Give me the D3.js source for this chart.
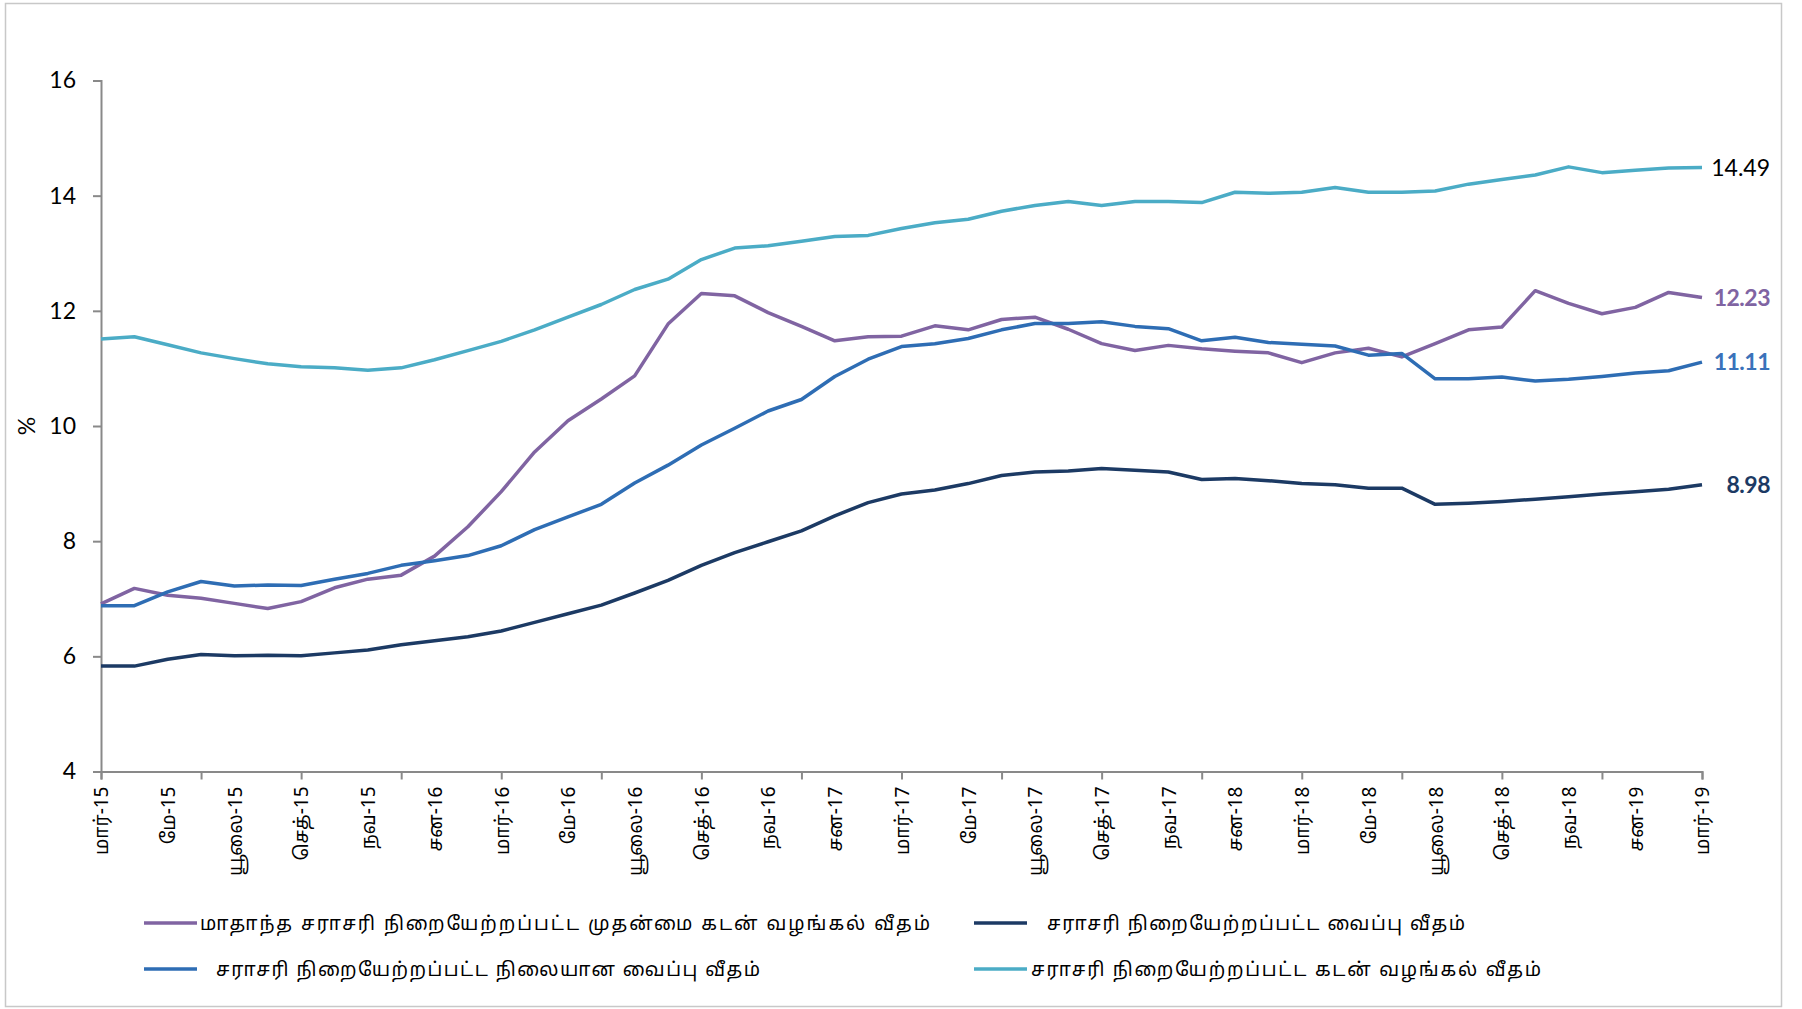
<!DOCTYPE html>
<html>
<head>
<meta charset="utf-8">
<script src="https://cdn.jsdelivr.net/npm/d3@7"></script>
<style>
  html, body { margin: 0; padding: 0; background: #fff; }
  svg { display: block; }
  .num { font-family: Lato, "Open Sans", "Liberation Sans", sans-serif; }
  .tam { font-family: "Noto Sans Tamil", "Latha", "Noto Sans", "Noto Serif Tamil", sans-serif; }
</style>
</head>
<body>
<svg id="chart" width="1802" height="1009"></svg>
<script>
// ---------- data ----------
const months = [
  "2015-03","2015-04","2015-05","2015-06","2015-07","2015-08","2015-09","2015-10","2015-11","2015-12",
  "2016-01","2016-02","2016-03","2016-04","2016-05","2016-06","2016-07","2016-08","2016-09","2016-10","2016-11","2016-12",
  "2017-01","2017-02","2017-03","2017-04","2017-05","2017-06","2017-07","2017-08","2017-09","2017-10","2017-11","2017-12",
  "2018-01","2018-02","2018-03","2018-04","2018-05","2018-06","2018-07","2018-08","2018-09","2018-10","2018-11","2018-12",
  "2019-01","2019-02","2019-03"
];

// every second month is labelled on the axis
const tickLabels = [
  "மார்-15","மே-15","யூலை-15","செத்-15","நவ-15","சன-16","மார்-16","மே-16","யூலை-16","செத்-16","நவ-16",
  "சன-17","மார்-17","மே-17","யூலை-17","செத்-17","நவ-17","சன-18","மார்-18","மே-18","யூலை-18","செத்-18",
  "நவ-18","சன-19","மார்-19"
];

const yTicks = [4, 6, 8, 10, 12, 14, 16];

// Monthly AWPR
const awpr = [6.91,7.18,7.06,7.01,6.92,6.83,6.95,7.19,7.34,7.41,7.74,8.25,8.86,9.55,10.09,10.47,10.87,11.77,12.30,
  12.26,11.97,11.73,11.48,11.55,11.56,11.74,11.67,11.85,11.89,11.68,11.43,11.31,11.40,11.34,11.30,11.27,11.10,11.27,
  11.35,11.20,11.43,11.67,11.72,12.35,12.13,11.95,12.06,12.32,12.23];

// AWDR
const awdr = [5.83,5.83,5.95,6.03,6.01,6.02,6.01,6.06,6.11,6.20,6.27,6.34,6.44,6.59,6.74,6.89,7.10,7.32,7.58,7.80,
  7.99,8.18,8.44,8.67,8.82,8.89,9.00,9.14,9.20,9.22,9.26,9.23,9.20,9.07,9.09,9.05,9.00,8.98,8.92,8.92,8.64,8.66,8.69,
  8.73,8.77,8.82,8.86,8.90,8.98];

// AWFDR
const awfdr = [6.88,6.88,7.12,7.30,7.22,7.24,7.23,7.34,7.44,7.58,7.66,7.75,7.92,8.20,8.42,8.64,9.01,9.32,9.67,9.96,
  10.26,10.46,10.86,11.16,11.38,11.43,11.52,11.67,11.78,11.78,11.81,11.73,11.69,11.48,11.54,11.45,11.42,11.39,11.23,
  11.26,10.82,10.82,10.85,10.78,10.81,10.86,10.92,10.96,11.11];

// AWLR
const awlr = [11.51,11.55,11.41,11.27,11.17,11.08,11.03,11.01,10.97,11.01,11.15,11.31,11.47,11.67,11.89,12.11,12.37,
  12.55,12.89,13.09,13.13,13.21,13.29,13.31,13.43,13.53,13.59,13.73,13.83,13.90,13.83,13.90,13.90,13.88,14.06,14.04,
  14.06,14.14,14.06,14.06,14.08,14.20,14.28,14.36,14.50,14.40,14.44,14.48,14.49];

const seriesNames = [
  "மாதாந்த சராசரி நிறையேற்றப்பட்ட முதன்மை கடன் வழங்கல் வீதம்",
  "சராசரி நிறையேற்றப்பட்ட வைப்பு வீதம்",
  "சராசரி நிறையேற்றப்பட்ட நிலையான வைப்பு வீதம்",
  "சராசரி நிறையேற்றப்பட்ட கடன் வழங்கல் வீதம்"
];
const seriesValues = [awpr, awdr, awfdr, awlr];
const seriesColors = ["#8064a2", "#1c3a64", "#2e6db4", "#4bacc6"];
const labelColors  = ["#8064a2", "#1c3a64", "#3a72ba", "#000000"];
const labelBold    = [true, true, true, false];

// ---------- layout ----------
const svg = d3.select("#chart");
const W = 1802, H = 1009;

svg.append("rect")
  .attr("x", 5.5).attr("y", 3.5).attr("width", 1776).attr("height", 1003)
  .attr("fill", "#fff").attr("stroke", "#c8c8c8").attr("stroke-width", 1.5);

const x = d3.scaleLinear().domain([0, months.length - 1]).range([101, 1702]);
const y = d3.scaleLinear().domain([4, 16]).range([771.5, 80.5]);

const axisColor = "#898989";

// y axis
const yAxis = svg.append("g")
  .attr("transform", `translate(${x(0)},0)`)
  .call(d3.axisLeft(y).tickValues(yTicks).tickSize(8).tickPadding(17).tickFormat(d3.format("d")));
yAxis.select(".domain").attr("stroke", axisColor).attr("stroke-width", 2);
yAxis.selectAll(".tick line").attr("stroke", axisColor).attr("stroke-width", 2);
yAxis.selectAll(".tick text")
  .attr("class", "num").attr("font-size", 23).attr("fill", "#000");

// x axis: tick marks every 3 months
const xAxisTicks = svg.append("g")
  .attr("transform", `translate(0,${y(4)})`)
  .call(d3.axisBottom(x).tickValues(d3.range(0, months.length, 3)).tickSize(8).tickFormat(""));
xAxisTicks.select(".domain").attr("stroke", axisColor).attr("stroke-width", 2);
xAxisTicks.selectAll(".tick line").attr("stroke", axisColor).attr("stroke-width", 2);

// x axis labels every 2 months
const labelIdx = d3.range(0, months.length, 2);
const xAxisLabels = svg.append("g")
  .attr("transform", `translate(0,${y(4)})`)
  .call(d3.axisBottom(x).tickValues(labelIdx).tickSize(0)
    .tickFormat((d, i) => tickLabels[i]));
xAxisLabels.select(".domain").remove();
xAxisLabels.selectAll(".tick text")
  .attr("class", "tam")
  .attr("font-size", 19)
  .attr("fill", "#000")
  .attr("text-anchor", "end")
  .attr("transform", "rotate(-90)")
  .attr("x", -15)
  .attr("y", 0)
  .attr("dy", "0.36em");

// y title
svg.append("text")
  .attr("class", "num")
  .attr("transform", `translate(27,${(y(10)+y(10))/2}) rotate(-90)`)
  .attr("text-anchor", "middle")
  .attr("dy", "0.35em")
  .attr("font-size", 23)
  .text("%");

// lines
const line = d3.line().x((d, i) => x(i)).y(d => y(d));
seriesValues.forEach((vals, k) => {
  svg.append("path")
    .datum(vals)
    .attr("fill", "none")
    .attr("stroke", seriesColors[k])
    .attr("stroke-width", 3.5)
    .attr("stroke-linejoin", "round")
    .attr("d", line);
});

// end labels
seriesValues.forEach((vals, k) => {
  const last = vals[vals.length - 1];
  svg.append("text")
    .attr("class", "num")
    .attr("x", 1770)
    .attr("y", y(last))
    .attr("dy", "0.36em")
    .attr("text-anchor", "end")
    .attr("font-size", 23)
    .attr("font-weight", labelBold[k] ? "bold" : "normal")
    .attr("letter-spacing", labelBold[k] ? -0.5 : 0)
    .attr("fill", labelColors[k])
    .text(d3.format(".2f")(last));
});

// legend (2 x 2)
const legendPos = [
  { lx: 144, ly: 923, tx: 200 },   // purple
  { lx: 974, ly: 923, tx: 1047 },  // navy
  { lx: 144, ly: 969, tx: 216 },   // blue
  { lx: 974, ly: 969, tx: 1031 }   // cyan
];
const legendWidths = [730, 418, 544, 510];
seriesNames.forEach((name, k) => {
  const p = legendPos[k];
  svg.append("line")
    .attr("x1", p.lx).attr("x2", p.lx + 53)
    .attr("y1", p.ly).attr("y2", p.ly)
    .attr("stroke", seriesColors[k]).attr("stroke-width", 3.5);
  svg.append("text")
    .attr("class", "tam")
    .attr("x", p.tx)
    .attr("y", p.ly)
    .attr("dy", "0.35em")
    .attr("font-size", 19)
    .attr("fill", "#000")
    .attr("textLength", legendWidths[k])
    .attr("lengthAdjust", "spacing")
    .text(name);
});
</script>
</body>
</html>
